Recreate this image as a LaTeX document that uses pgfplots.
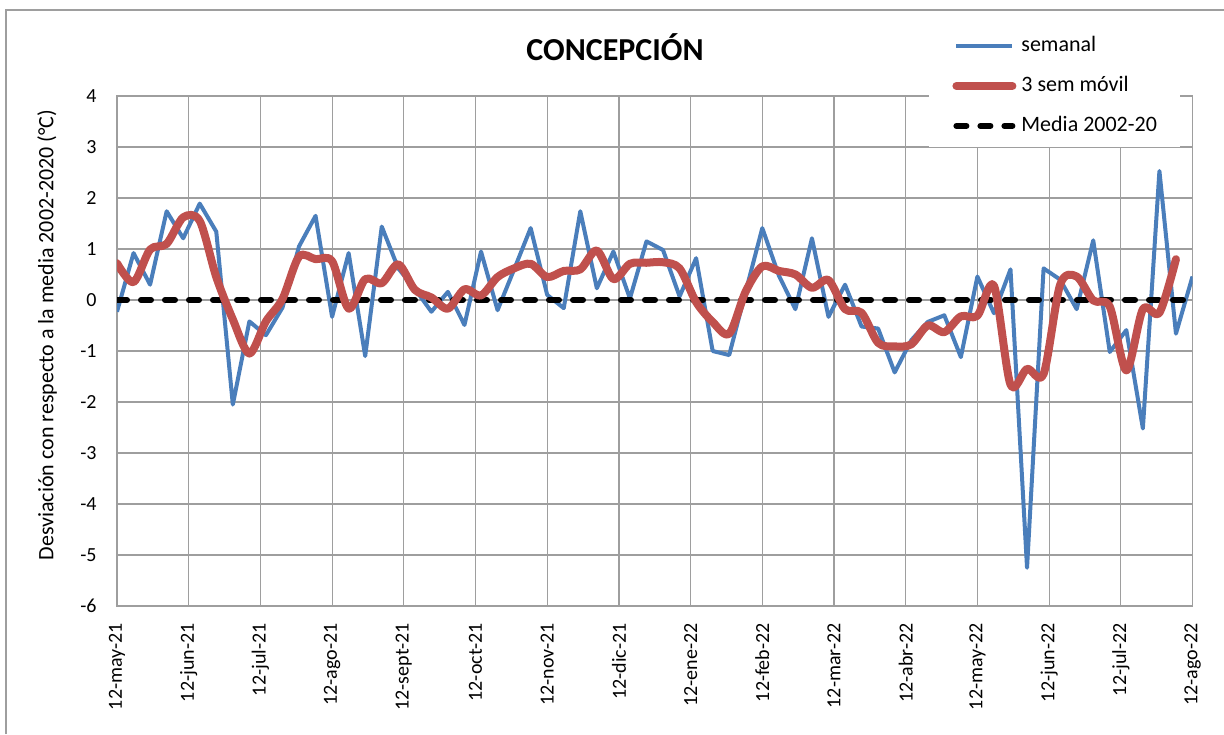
\documentclass[border=0pt]{standalone}
\usepackage{pgfplots}
\pgfplotsset{compat=1.18}
\usepackage{fontspec}
\setmainfont{Carlito}
\definecolor{sblue}{HTML}{4A7EBB}
\definecolor{sred}{HTML}{C0504D}
\definecolor{gridc}{HTML}{9E9E9E}

\pgfplotstableread{
i v
0 -0.23
1 0.92
2 0.30
3 1.74
4 1.21
5 1.89
6 1.34
7 -2.05
8 -0.42
9 -0.69
10 -0.15
11 1.05
12 1.65
13 -0.33
14 0.92
15 -1.10
16 1.44
17 0.62
18 0.22
19 -0.23
20 0.16
21 -0.49
22 0.95
23 -0.20
24 0.60
25 1.41
26 0.10
27 -0.16
28 1.74
29 0.23
30 0.95
31 0.03
32 1.15
33 0.98
34 0.07
35 0.82
36 -1.00
37 -1.08
38 0.17
39 1.41
40 0.48
41 -0.18
42 1.21
43 -0.33
44 0.30
45 -0.52
46 -0.56
47 -1.42
48 -0.79
49 -0.43
50 -0.30
51 -1.12
52 0.46
53 -0.26
54 0.60
55 -5.25
56 0.62
57 0.40
58 -0.18
59 1.17
60 -1.02
61 -0.59
62 -2.52
63 2.53
64 -0.66
65 0.46
}\semanal

\pgfplotstableread{
i v
0 0.72
1 0.35
2 0.99
3 1.10
4 1.62
5 1.55
6 0.45
7 -0.38
8 -1.05
9 -0.42
10 0.02
11 0.85
12 0.80
13 0.76
14 -0.17
15 0.41
16 0.33
17 0.70
18 0.20
19 0.05
20 -0.17
21 0.21
22 0.09
23 0.45
24 0.62
25 0.71
26 0.45
27 0.57
28 0.60
29 0.97
30 0.41
31 0.71
32 0.73
33 0.74
34 0.62
35 -0.04
36 -0.43
37 -0.66
38 0.17
39 0.66
40 0.57
41 0.50
42 0.24
43 0.39
44 -0.18
45 -0.25
46 -0.84
47 -0.91
48 -0.87
49 -0.50
50 -0.63
51 -0.32
52 -0.31
53 0.28
54 -1.66
55 -1.35
56 -1.45
57 0.30
58 0.46
59 -0.01
60 -0.13
61 -1.38
62 -0.18
63 -0.25
64 0.80
}\movil

\begin{document}
\begin{tikzpicture}
\path[use as bounding box] (0,0) rectangle (612pt,367pt);
\draw[gridc, line width=0.6pt] (3pt,0) -- (3pt,362pt) -- (612pt,362pt);
\begin{axis}[
  at={(58.5pt,64pt)}, anchor=south west,
  scale only axis, width=537.75pt, height=255pt,
  xmin=0, xmax=65, ymin=-6, ymax=4,
  xtick={0,4.3333,8.6667,13,17.3333,21.6667,26,30.3333,34.6667,39,43.3333,47.6667,52,56.3333,60.6667,65},
  xticklabels={12-may-21,12-jun-21,12-jul-21,12-ago-21,12-sept-21,12-oct-21,12-nov-21,12-dic-21,12-ene-22,12-feb-22,12-mar-22,12-abr-22,12-may-22,12-jun-22,12-jul-22,12-ago-22},
  ytick={-6,-5,-4,-3,-2,-1,0,1,2,3,4},
  yticklabels={-6,-5,-4,-3,-2,-1,0,1,2,3,4},
  grid=major,
  grid style={gridc, line width=0.6pt},
  axis line style={gridc, line width=0.6pt},
  major tick length=0pt,
  xticklabel style={rotate=90, anchor=east, inner sep=0pt, font=\fontsize{10}{12}\selectfont},
  xticklabel shift=8.5pt,
  yticklabel style={anchor=east, inner sep=0pt, font=\fontsize{10}{12}\selectfont},
  yticklabel shift=10pt,
  legend cell align=left,
  legend style={draw=none, fill=white, at={(0.755,1.141)}, anchor=north west,
    inner xsep=11.5pt, inner ysep=6pt, row sep=10.5pt, column sep=2.5pt,
    font=\fontsize{11}{13}\selectfont,
    nodes={inner sep=0pt, text height=7.5pt, text depth=2pt}},
  legend image code/.code={\draw[#1] (0pt,0pt) -- (28pt,0pt);},
]
\addplot[sblue, line width=2pt, line join=round] table[x=i, y=v] {\semanal};
\addlegendentry{semanal}
\addlegendimage{sred, line width=4pt, line cap=round}
\addlegendentry{3 sem móvil}
\addplot[black, line width=3pt, line cap=round, dash pattern=on 5pt off 7pt] coordinates {(0,0) (65,0)};
\addlegendentry{Media 2002-20}
\addplot[sred, line width=4pt, smooth, tension=0.5, line cap=round, line join=round, forget plot] table[x=i, y=v] {\movil};
\end{axis}
\node[font=\fontsize{16}{19}\selectfont\bfseries] at (307.5pt,343.5pt) {CONCEPCIÓN};
\node[rotate=90, font=\fontsize{11}{13}\selectfont] at (23.5pt,199.5pt) {Desviación con respecto a la media 2002-2020 (°C)};
\end{tikzpicture}
\end{document}
